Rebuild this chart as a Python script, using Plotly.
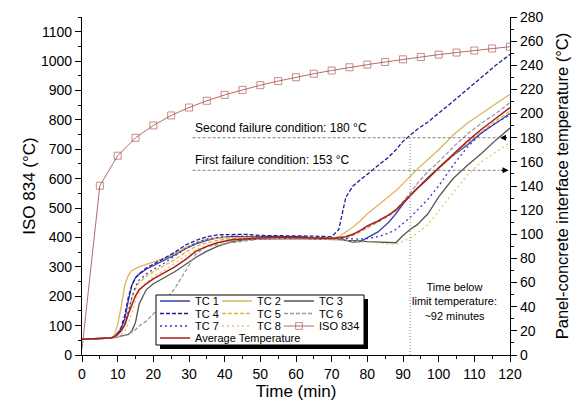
import plotly.graph_objects as go

# ISO 834 standard fire curve (left axis)
time_iso = [0, 5, 10, 15, 20, 25, 30, 35, 40, 45, 50, 55, 60, 65, 70, 75, 80, 85, 90, 95, 100, 105, 110, 115, 120]
iso_834 = [20, 576, 678, 739, 781, 815, 842, 865, 885, 902, 918, 932, 945, 957, 968, 979, 988, 997, 1006, 1014, 1022, 1029, 1036, 1043, 1049]

# thermocouples at the panel-concrete interface (right axis)
time_tc = [0, 4, 8, 9, 10, 11, 12, 13, 14, 15, 16, 18, 20, 23, 26, 29, 32, 35, 38, 42, 46, 50, 55, 60, 65, 70,
           72, 74, 76, 78, 80, 83, 86, 88, 90, 92, 94, 97, 100, 104, 108, 112, 116, 120]
tc1 = [13, 13.5, 14, 15, 18, 22, 30, 45, 58, 64, 67, 71, 74, 78, 83, 88, 92, 95, 97, 98, 98, 98, 98, 98, 97, 96.5,
       96, 95, 93.5, 94, 97, 102, 110, 117, 125, 132, 138, 147, 155, 165, 174, 184, 192, 200]
tc2 = [13, 13.5, 14, 16, 25, 40, 58, 66, 70, 71.5, 73, 75, 77, 80, 84, 89, 93, 96, 97, 97.5, 97.5, 97.5, 97.5, 97.5, 97, 97,
       98, 102, 106, 111, 117, 124, 131, 136, 142, 148, 154, 162, 170, 182, 192, 200, 208, 216]
tc3 = [13, 13.5, 14, 14.5, 15, 15.5, 16, 17, 20, 27, 42, 54, 59, 64, 69, 75, 81, 86, 90, 94, 95.5, 96, 96.5, 96.5, 96, 96,
       95.5, 95, 95, 94.5, 94, 93.5, 93, 93, 99, 104, 108, 117, 131, 146, 157, 167, 178, 188]
tc4 = [13, 13.5, 14, 15, 18, 23, 33, 48, 58, 64, 67, 72, 75, 80, 85, 91, 95, 98, 99.5, 100, 100, 99, 99, 99, 98.5, 98,
       104, 131, 140, 145, 150, 157, 164, 170, 177, 182, 187, 193, 200, 210, 220, 230, 240, 249]
tc5 = [13, 13.5, 14, 15, 17, 20, 26, 35, 47, 55, 60, 65, 69, 74, 79, 85, 90, 93, 95, 96.5, 97, 97, 97, 97, 96.5, 96,
       96, 97, 99, 102, 105, 110, 116, 121, 126, 132, 138, 146, 154, 165, 176, 185, 194, 202]
tc6 = [13, 13.5, 14, 14.5, 15, 15.5, 16, 17, 19, 21, 24, 28, 34, 44, 55, 70, 84, 90, 91.5, 93, 94.5, 96, 97, 97, 96.5, 96,
       96.5, 98, 100, 103, 106, 110, 115, 120, 127, 134, 142, 152, 160, 172, 183, 192, 200, 209]
tc7 = [13, 13.5, 14, 15, 17, 20, 25, 36, 48, 57, 62, 67, 71, 76, 82, 88, 93, 96, 97.5, 98.5, 98.5, 98.5, 98, 98, 97.5, 97,
       96.5, 96, 96, 96, 96.5, 98, 101, 104, 109, 114, 120, 129, 140, 157, 172, 184, 192, 199]
tc8 = [13, 13.5, 14, 14.5, 15.5, 17, 20, 26, 35, 45, 52, 60, 65, 70, 76, 82, 87, 91, 93.5, 95, 96, 96.5, 96.5, 96.5, 96, 95.5,
       95, 94.5, 94, 93.5, 93, 92.5, 92, 92, 94, 97, 101, 108, 119, 134, 149, 160, 168, 176]
avg_temp = [13, 13.5, 14, 15, 17, 20, 25, 34, 42, 49, 54, 59, 63, 68, 73, 79, 86, 90, 93, 95.5, 96.5, 97, 97.5, 97.5, 97, 96.5,
            97, 98, 100, 103, 107, 111, 116, 120, 126, 132, 138, 146, 155, 166, 177, 187, 196, 205]

first_limit = 153
second_limit = 180
limit_time = 92

font = "Arial, Liberation Sans, sans-serif"

# the page body adds an 8 px margin, so the figure is shrunk by that amount
PAGE = 8
W, H = 581 - PAGE, 406 - PAGE
ML, MR, MT, MB = 82 - PAGE, 71, 9, 51
PW, PH = W - ML - MR, H - MT - MB


def px(x):
    # window pixel -> paper x
    return (x - PAGE - ML) / PW


def py(y):
    # window pixel -> paper y
    return (H - MB - (y - PAGE)) / PH


fig = go.Figure()

tc_series = [
    ("TC 1", tc1, "#3a3fae", "solid"),
    ("TC 2", tc2, "#e0b35c", "solid"),
    ("TC 3", tc3, "#555555", "solid"),
    ("TC 4", tc4, "#1c1c96", "4px,2px"),
    ("TC 5", tc5, "#e8b23a", "4px,2px"),
    ("TC 6", tc6, "#9a9a9a", "4px,2px"),
    ("TC 7", tc7, "#3535c8", "2px,3px"),
    ("TC 8", tc8, "#f0c266", "2px,3px"),
]
for i, (name, vals, col, dash) in enumerate(tc_series):
    fig.add_trace(go.Scatter(x=time_tc, y=vals, name=name, mode="lines", yaxis="y2",
                             line=dict(color=col, width=1.3, dash=dash),
                             legend="legend" if i == 0 else f"legend{i + 1}"))

fig.add_trace(go.Scatter(x=time_iso, y=iso_834, name="ISO 834", mode="lines+markers", yaxis="y",
                         line=dict(color="#b86a6a", width=1),
                         marker=dict(symbol="square-open", size=[0] + [7] * (len(time_iso) - 1),
                                     color="#b05a5a", line=dict(width=1)),
                         legend="legend9"))
fig.add_trace(go.Scatter(x=time_tc, y=avg_temp, name="Average Temperature", mode="lines", yaxis="y2",
                         line=dict(color="#a81e1e", width=1.5), legend="legend10"))

# failure conditions and time line
for lim in (second_limit, first_limit):
    fig.add_shape(type="line", xref="x", yref="y2", x0=31, x1=117, y0=lim, y1=lim,
                  line=dict(color="#808080", width=1, dash="3px,2px"))
fig.add_shape(type="line", xref="x", yref="y2", x0=limit_time, x1=limit_time, y0=0, y1=second_limit,
              line=dict(color="#8a8a8a", width=1, dash="1px,2px"))

fig.add_annotation(x=31, y=second_limit, xref="x", yref="y2", xanchor="left", yanchor="bottom",
                   text="Second failure condition: 180 °C", showarrow=False, yshift=1,
                   font=dict(size=12, color="black", family=font))
fig.add_annotation(x=31, y=first_limit, xref="x", yref="y2", xanchor="left", yanchor="bottom",
                   text="First failure condition: 153 °C", showarrow=False, yshift=1,
                   font=dict(size=12, color="black", family=font))
fig.add_annotation(x=117.2, y=second_limit, xref="x", yref="y2", ax=119.6, ay=second_limit,
                   axref="x", ayref="y2", text="", showarrow=True, arrowhead=2, arrowsize=1.2,
                   arrowwidth=1, arrowcolor="black")
fig.add_annotation(x=119.6, y=first_limit, xref="x", yref="y2", ax=117, ay=first_limit,
                   axref="x", ayref="y2", text="", showarrow=True, arrowhead=2, arrowsize=1.2,
                   arrowwidth=1, arrowcolor="black")
fig.add_annotation(x=104.3, y=44, xref="x", yref="y2", showarrow=False,
                   text="Time below<br>limit temperature:<br>~92 minutes",
                   font=dict(size=11, color="black", family=font))

# legend frame with drop shadow
bx0, bx1, by0, by1 = 156, 364, 295, 345
fig.add_shape(type="rect", xref="paper", yref="paper", x0=px(bx0 + 4), x1=px(bx1 + 4),
              y0=py(by1 + 4), y1=py(by0 + 4), fillcolor="black", line=dict(width=0), layer="above")
fig.add_shape(type="rect", xref="paper", yref="paper", x0=px(bx0), x1=px(bx1), y0=py(by1), y1=py(by0),
              fillcolor="white", line=dict(color="black", width=1), layer="above")

# one small legend per entry, laid out as a 3-column block
cols = [155, 217, 279]
rows = [301, 313.5, 326, 338]
slots = [(0, 0), (1, 0), (2, 0), (0, 1), (1, 1), (2, 1), (0, 2), (1, 2), (2, 2), (0, 3)]
legends = {}
for i, (c, r) in enumerate(slots):
    key = "legend" if i == 0 else f"legend{i + 1}"
    legends[key] = dict(x=px(cols[c]), y=py(rows[r]), xanchor="left", yanchor="middle",
                        orientation="h", bgcolor="rgba(0,0,0,0)",
                        font=dict(size=11, color="black", family=font))

axis_common = dict(showline=True, linecolor="black", linewidth=1.3, showgrid=False, zeroline=False,
                   ticks="outside", tickcolor="black", tickwidth=1.2, ticklen=6, automargin=False,
                   ticklabeloverflow="allow", tickfont=dict(size=14, color="black", family=font))

fig.update_layout(
    width=W, height=H,
    margin=dict(l=ML, r=MR, t=MT, b=MB),
    plot_bgcolor="white", paper_bgcolor="white",
    font=dict(family=font, color="black"),
    showlegend=True,
    **legends,
    xaxis=dict(range=[0, 120], dtick=10, title=dict(text="Time (min)", font=dict(size=17), standoff=1),
               minor=dict(dtick=5, ticks="outside", ticklen=3, tickcolor="black"), **axis_common),
    xaxis2=dict(range=[0, 120], overlaying="x", side="top", anchor="y", showline=True, linecolor="black",
                linewidth=1.3, showgrid=False, zeroline=False, ticks="inside", tickcolor="black",
                ticklen=5, dtick=10, showticklabels=False, automargin=False,
                minor=dict(dtick=5, ticks="inside", ticklen=3, tickcolor="black")),
    yaxis=dict(range=[0, 1150], dtick=100, title=dict(text="ISO 834 (°C)", font=dict(size=17), standoff=0),
               minor=dict(dtick=50, ticks="outside", ticklen=3, tickcolor="black"), **axis_common),
    yaxis2=dict(range=[0, 280], dtick=20, overlaying="y", side="right", anchor="x",
                title=dict(text="Panel-concrete interface temperature (°C)", font=dict(size=16.5), standoff=13),
                minor=dict(dtick=10, ticks="outside", ticklen=3, tickcolor="black"), **axis_common),
)

fig.write_html("out.html")
